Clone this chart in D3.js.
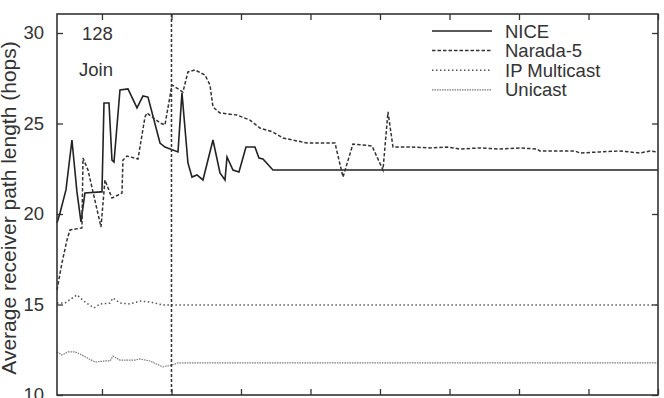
<!DOCTYPE html>
<html><head><meta charset="utf-8">
<script src="https://cdn.jsdelivr.net/npm/d3@7/dist/d3.min.js"></script>
<style>html,body{margin:0;padding:0;background:#fff;overflow:hidden}</style>
</head><body><svg id="c" width="664" height="398"></svg>
<script>
// ---- data (x in seconds, y in hops) ----
const niceT = [35.3,39.6,48.2,56.8,64.0,69.8,75.5,98.6,100,102.9,110.1,114.4,117.3,125.9,137.4,150.4,159.0,166.2,183.5,190.6,209.4,215.1,223.7,229.5,236.7,245.3,259.7,269.8,277.0,279.9,288.5,297.1,307.2,320.1,325.9,331.6,346.0,900];
const niceV = [19.50,20.06,21.33,24.09,21.22,19.56,21.16,21.22,21.22,26.13,26.13,22.98,22.87,26.85,26.91,25.86,26.52,26.46,23.92,23.70,23.43,26.69,22.82,22.04,22.16,21.88,24.09,22.27,21.88,23.15,22.43,22.32,23.70,23.70,23.09,23.04,22.43,22.43];

const naradaT = [35.3,42.4,49.6,54.0,71.2,72.7,79.9,98.6,104.3,114.4,128.8,130.2,136.0,151.8,161.9,164.7,183.5,190.6,200.7,216.5,223.7,233.8,248.2,255.4,259.7,269.8,294.2,312.9,327.3,346.0,360.4,395.0,435.3,446.8,461.1,488.5,504.3,511.5,518.7,543.2,571.9,596.4,615.1,643.9,672.6,701.4,725.9,730.2,780.5,787.7,816.5,845.3,874.1,888.5,900];
const naradaV = [15.80,17.29,18.56,19.12,19.23,23.09,22.43,19.28,21.88,20.88,21.16,22.98,23.20,23.04,25.36,25.58,25.03,24.92,27.13,26.74,27.85,27.96,27.68,27.13,25.91,25.58,25.47,25.19,24.75,24.53,24.20,23.92,23.92,22.04,23.87,23.76,22.43,25.64,23.70,23.70,23.65,23.70,23.59,23.65,23.59,23.65,23.59,23.48,23.48,23.37,23.43,23.48,23.37,23.48,23.43];

const ipmT = [35.3,46.8,64.0,75.5,88.5,97.1,111.5,115.8,125.9,140.3,154.7,169.1,187.8,200.7,900];
const ipmV = [15.08,15.08,15.53,15.14,14.81,15.03,15.08,15.36,15.08,15.03,15.19,15.14,14.97,14.97,14.97];

const uniT = [35.3,42.4,51.1,61.2,68.3,89.9,104.3,111.5,115.8,125.9,147.5,154.7,169.1,187.8,200.7,209.4,900];
const uniV = [12.38,12.21,12.38,12.38,12.27,11.82,11.88,11.88,12.15,11.93,11.93,11.99,11.88,11.55,11.66,11.77,11.77];

const seriesNames = ["NICE","Narada-5","IP Multicast","Unicast"];
const yTicks = [10,15,20,25,30];
const xTicks = [100,200,300,400,500,600,700,800,900];
const joinTime = 200;
const joinLabel = ["128","Join"];
const yLabel = "Average receiver path length (hops)";

// ---- layout ----
const L = 57, R = 658, T = 14, B = 395;
const svg = d3.select("#c");
const x = d3.scaleLinear().domain([35.3, 900]).range([L, R]);
const y = d3.scaleLinear().domain([10, 30]).range([B, 33]);
const font = "'Liberation Sans', Arial, sans-serif";
const ink = "#222";

const styles = [
  {dash: null, color: "#222", w: 1.6},
  {dash: "3.5,2", color: "#333", w: 1.5},
  {dash: "1.5,2.5", color: "#555", w: 1.5},
  {dash: "1.5,1", color: "#777", w: 1.2}
];
const series = [
  niceT.map((t,i)=>[t,niceV[i]]),
  naradaT.map((t,i)=>[t,naradaV[i]]),
  ipmT.map((t,i)=>[t,ipmV[i]]),
  uniT.map((t,i)=>[t,uniV[i]])
];

// axes (inward ticks)
function styleAxis(g){
  g.select(".domain").remove();
  g.selectAll(".tick line").attr("stroke","#333").attr("stroke-width",1.3);
  g.selectAll("text").attr("font-family",font).attr("font-size","18.5px").attr("fill","#333");
}
svg.append("g").attr("transform",`translate(${L},0)`)
  .call(d3.axisLeft(y).tickValues(yTicks).tickSize(-6).tickPadding(13).tickFormat(d3.format("d"))).call(styleAxis);
svg.append("g").attr("transform",`translate(${R},0)`)
  .call(d3.axisRight(y).tickValues(yTicks).tickSize(-6).tickFormat("")).call(styleAxis);
svg.append("g").attr("transform",`translate(0,${T})`)
  .call(d3.axisTop(x).tickValues(xTicks).tickSize(-6).tickFormat("")).call(styleAxis);
svg.append("g").attr("transform",`translate(0,${B})`)
  .call(d3.axisBottom(x).tickValues(xTicks).tickSize(-6).tickFormat("")).call(styleAxis);

// series
const line = d3.line().x(d=>x(d[0])).y(d=>y(d[1]));
series.forEach((s,i)=>{
  svg.append("path").datum(s).attr("d",line).attr("fill","none")
    .attr("stroke",styles[i].color).attr("stroke-width",styles[i].w)
    .attr("stroke-dasharray",styles[i].dash).attr("stroke-linejoin","miter");
});

// join marker
svg.append("line").attr("x1",x(joinTime)).attr("x2",x(joinTime)).attr("y1",T).attr("y2",B)
  .attr("stroke","#333").attr("stroke-width",1.5).attr("stroke-dasharray","3,2");
svg.append("text").attr("x",82).attr("y",40).text(joinLabel[0])
  .attr("font-family",font).attr("font-size","18.5px").attr("fill","#333");
svg.append("text").attr("x",79).attr("y",76).text(joinLabel[1])
  .attr("font-family",font).attr("font-size","18.5px").attr("fill","#333");

// frame
svg.append("rect").attr("x",L).attr("y",T).attr("width",R-L).attr("height",B-T)
  .attr("fill","none").attr("stroke","#333").attr("stroke-width",1.6);

// legend
seriesNames.forEach((n,i)=>{
  const ly = 31 + i*19.6;
  svg.append("line").attr("x1",432).attr("x2",492).attr("y1",ly).attr("y2",ly)
    .attr("stroke",styles[i].color).attr("stroke-width",styles[i].w)
    .attr("stroke-dasharray",styles[i].dash);
  svg.append("text").attr("x",505).attr("y",ly+6.5).text(n)
    .attr("font-family",font).attr("font-size","18.5px").attr("fill","#333");
});

// y label
svg.append("text").attr("transform","translate(16,208) rotate(-90)")
  .attr("text-anchor","middle").text(yLabel)
  .attr("font-family",font).attr("font-size","21px").attr("fill","#333");
</script></body></html>
